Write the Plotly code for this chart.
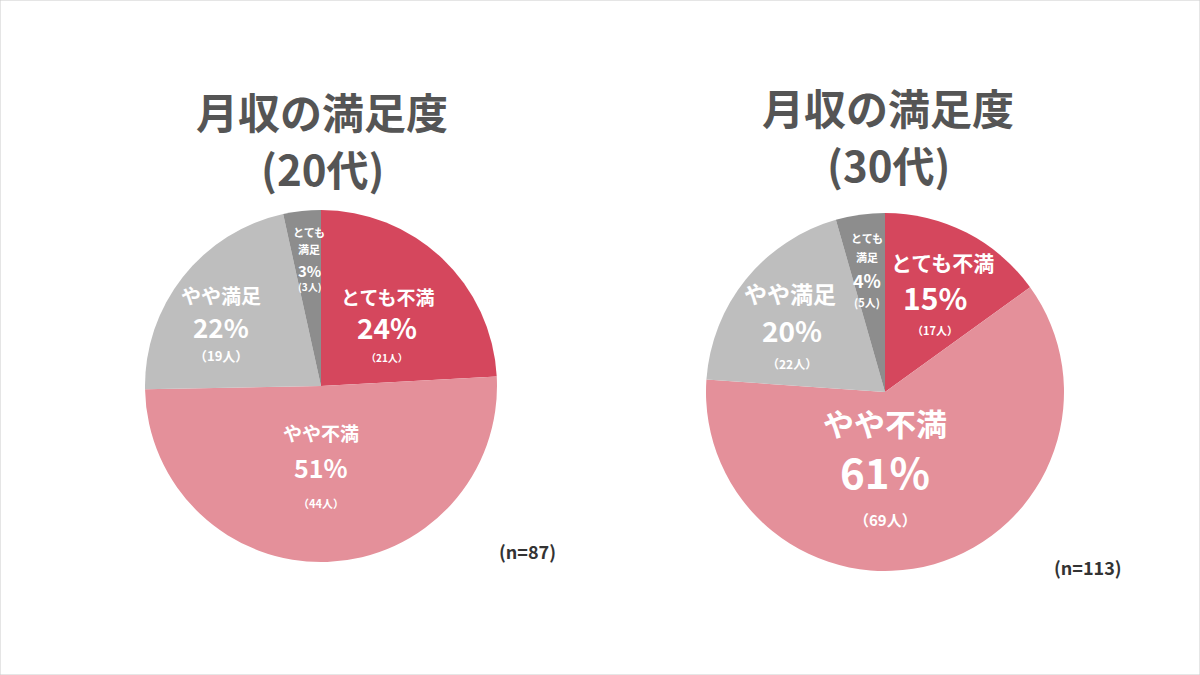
import plotly.graph_objects as go

categories = ["とても不満", "やや不満", "やや満足", "とても満足"]
counts_20s = [21, 44, 19, 3]
counts_30s = [17, 69, 22, 5]
pct_20s = ["24%", "51%", "22%", "3%"]
pct_30s = ["15%", "61%", "20%", "4%"]
title_main = "月収の満足度"
title_sub = ["(20代)", "(30代)"]
n_labels = ["(n=87)", "(n=113)"]

colors = ["#D5475D", "#E4909A", "#BEBEBE", "#8D8D8D"]
FONT = "Noto Sans CJK JP"
W, H = 1200, 675

fig = go.Figure()

def dom(cx, cy, r):
    return dict(x=[(cx - r) / W, (cx + r) / W], y=[(H - cy - r) / H, (H - cy + r) / H])

fig.add_trace(go.Pie(labels=categories, values=counts_20s, sort=False, direction="clockwise",
                     rotation=0, marker=dict(colors=colors, line=dict(width=0)),
                     textinfo="none", hoverinfo="label+value+percent", showlegend=False,
                     domain=dom(321, 386, 176)))
fig.add_trace(go.Pie(labels=categories, values=counts_30s, sort=False, direction="clockwise",
                     rotation=0, marker=dict(colors=colors, line=dict(width=0)),
                     textinfo="none", hoverinfo="label+value+percent", showlegend=False,
                     domain=dom(885, 392, 179)))

ann = []
def txt(x, y, s, size, color="white"):
    ann.append(dict(x=x / W, y=1 - y / H, xref="paper", yref="paper", text=s, showarrow=False,
                    xanchor="center", yanchor="middle",
                    font=dict(family=FONT, size=size, color=color, weight="bold")))

def ppl(n, full=True):
    return f"（{n}人）" if full else f"({n}人)"

# titles
txt(322, 111, title_main, 42, "#555555")
txt(322, 167, title_sub[0], 42, "#555555")
txt(888, 106, title_main, 42, "#555555")
txt(888, 163, title_sub[1], 42, "#555555")
txt(527, 551, n_labels[0], 18, "#333333")
txt(1088, 567, n_labels[1], 18, "#333333")

# Pie 1 labels
txt(387, 296, categories[0], 19); txt(387, 327, pct_20s[0], 28); txt(387, 357, ppl(counts_20s[0]), 10)
txt(321, 432, categories[1], 19); txt(321, 467, pct_20s[1], 25); txt(321, 503, ppl(counts_20s[1]), 11)
txt(221, 295, categories[2], 20); txt(221, 326, pct_20s[2], 26); txt(221, 355, ppl(counts_20s[2]), 13)
txt(309, 232, "とても", 11); txt(309, 249, "満足", 11); txt(309, 270, pct_20s[3], 15); txt(309, 287, ppl(counts_20s[3], False), 10)

# Pie 2 labels
txt(942, 262, categories[0], 21); txt(935, 297, pct_30s[0], 30); txt(935, 330, ppl(counts_30s[0]), 11)
txt(885, 422, categories[1], 31); txt(885, 470, pct_30s[1], 42); txt(885, 519, ppl(counts_30s[1]), 15)
txt(790, 293, categories[2], 23); txt(792, 330, pct_30s[2], 28); txt(792, 363, ppl(counts_30s[2]), 12)
txt(867, 238, "とても", 11); txt(867, 257, "満足", 11); txt(867, 280, pct_30s[3], 18); txt(867, 302, ppl(counts_30s[3], False), 11)

fig.update_layout(
    width=W, height=H, margin=dict(l=0, r=0, t=0, b=0),
    paper_bgcolor="white", plot_bgcolor="white",
    annotations=ann,
    shapes=[dict(type="rect", xref="paper", yref="paper", x0=0, y0=0, x1=1, y1=1,
                 line=dict(color="#CCCCCC", width=1))],
)

fig.write_html("out.html", config={"displayModeBar": False},
               post_script="document.body.style.margin='0';")
